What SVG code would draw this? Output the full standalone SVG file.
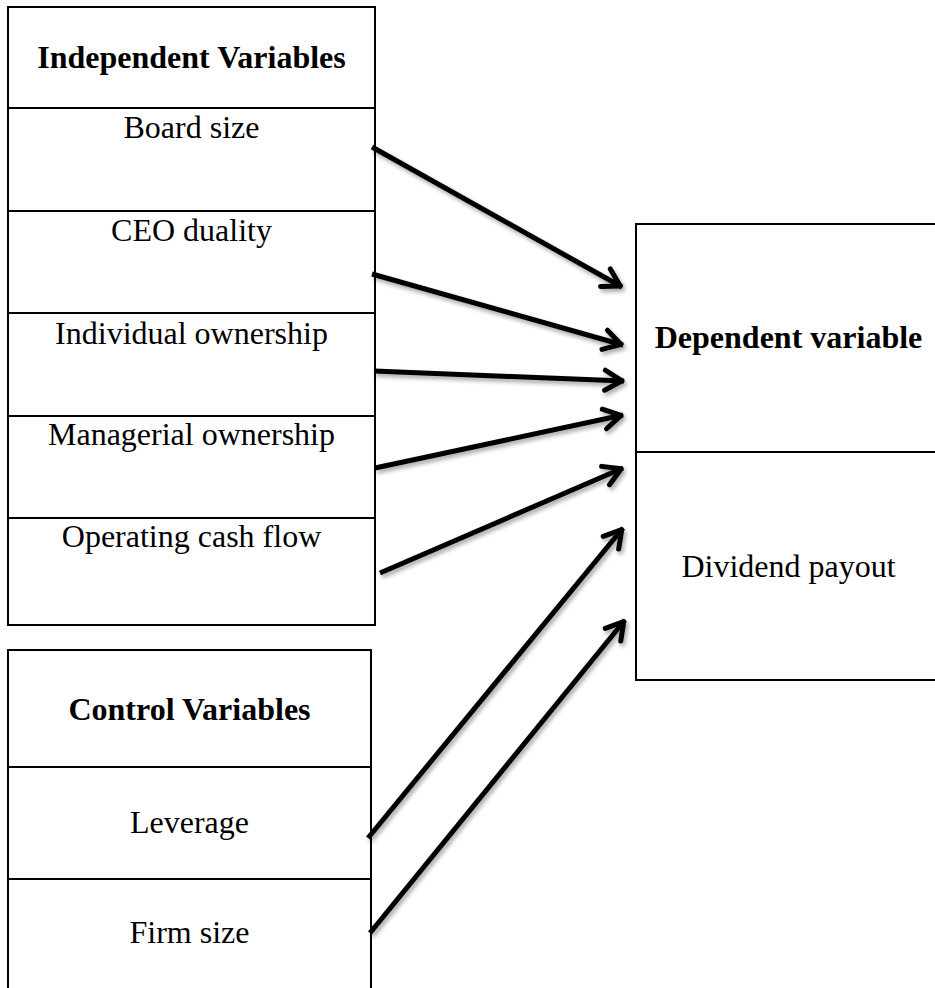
<svg xmlns="http://www.w3.org/2000/svg" width="935" height="988" viewBox="0 0 935 988">
<style>
.box{fill:#fff;stroke:#000;stroke-width:2}
.div{stroke:#000;stroke-width:2}
.t{font-family:'Liberation Serif','Times New Roman',Tinos,'DejaVu Serif',serif;font-size:32px;fill:#000;text-anchor:middle}
.b{font-weight:bold}
.arr{stroke:#000;stroke-width:5;fill:none;stroke-linecap:butt;marker-end:url(#head)}
</style>
<defs>
<marker id="head" markerUnits="userSpaceOnUse" viewBox="-30 -20 40 40" markerWidth="40" markerHeight="40" refX="0" refY="0" orient="auto">
<path d="M-19,-10 L-2,0 L-19,10" fill="none" stroke="#000" stroke-width="5" stroke-linejoin="round" stroke-linecap="round"/>
</marker>
<filter id="sh" x="-20%" y="-20%" width="140%" height="140%">
<feDropShadow dx="2" dy="3" stdDeviation="2" flood-color="#000" flood-opacity="0.35"/>
</filter>
</defs>
<rect width="935" height="988" fill="#fff"/>
<g id="independent">
<rect class="box" x="8" y="7" width="367" height="618"/>
<line class="div" x1="8" y1="108" x2="375" y2="108"/>
<line class="div" x1="8" y1="211" x2="375" y2="211"/>
<line class="div" x1="8" y1="313" x2="375" y2="313"/>
<line class="div" x1="8" y1="416" x2="375" y2="416"/>
<line class="div" x1="8" y1="518" x2="375" y2="518"/>
<text class="t b" x="191.5" y="68" font-family="Liberation Serif">Independent Variables</text>
<text class="t" x="191.5" y="138" font-family="Liberation Serif">Board size</text>
<text class="t" x="191.5" y="241" font-family="Liberation Serif">CEO duality</text>
<text class="t" x="191.5" y="344" font-family="Liberation Serif">Individual ownership</text>
<text class="t" x="191.5" y="445" font-family="Liberation Serif">Managerial ownership</text>
<text class="t" x="191.5" y="547" font-family="Liberation Serif">Operating cash flow</text>
</g>
<g id="control">
<rect class="box" x="8" y="650" width="363" height="360"/>
<line class="div" x1="8" y1="767" x2="371" y2="767"/>
<line class="div" x1="8" y1="879" x2="371" y2="879"/>
<text class="t b" x="189.5" y="720" font-family="Liberation Serif">Control Variables</text>
<text class="t" x="189.5" y="833" font-family="Liberation Serif">Leverage</text>
<text class="t" x="189.5" y="943" font-family="Liberation Serif">Firm size</text>
</g>
<g id="dependent">
<rect class="box" x="636" y="224" width="320" height="456"/>
<line class="div" x1="636" y1="452" x2="940" y2="452"/>
<text class="t b" x="788.5" y="348" font-family="Liberation Serif">Dependent variable</text>
<text class="t" x="788.5" y="577" font-family="Liberation Serif">Dividend payout</text>
</g>
<g id="connectors" filter="url(#sh)">
<line class="arr" x1="372" y1="147" x2="622" y2="287"/>
<line class="arr" x1="372" y1="274" x2="623" y2="345"/>
<line class="arr" x1="374" y1="371" x2="624" y2="381"/>
<line class="arr" x1="375" y1="468" x2="623" y2="415"/>
<line class="arr" x1="380" y1="573" x2="623" y2="468"/>
<line class="arr" x1="368" y1="838" x2="623" y2="528"/>
<line class="arr" x1="370" y1="933" x2="625" y2="620"/>
</g>
</svg>
